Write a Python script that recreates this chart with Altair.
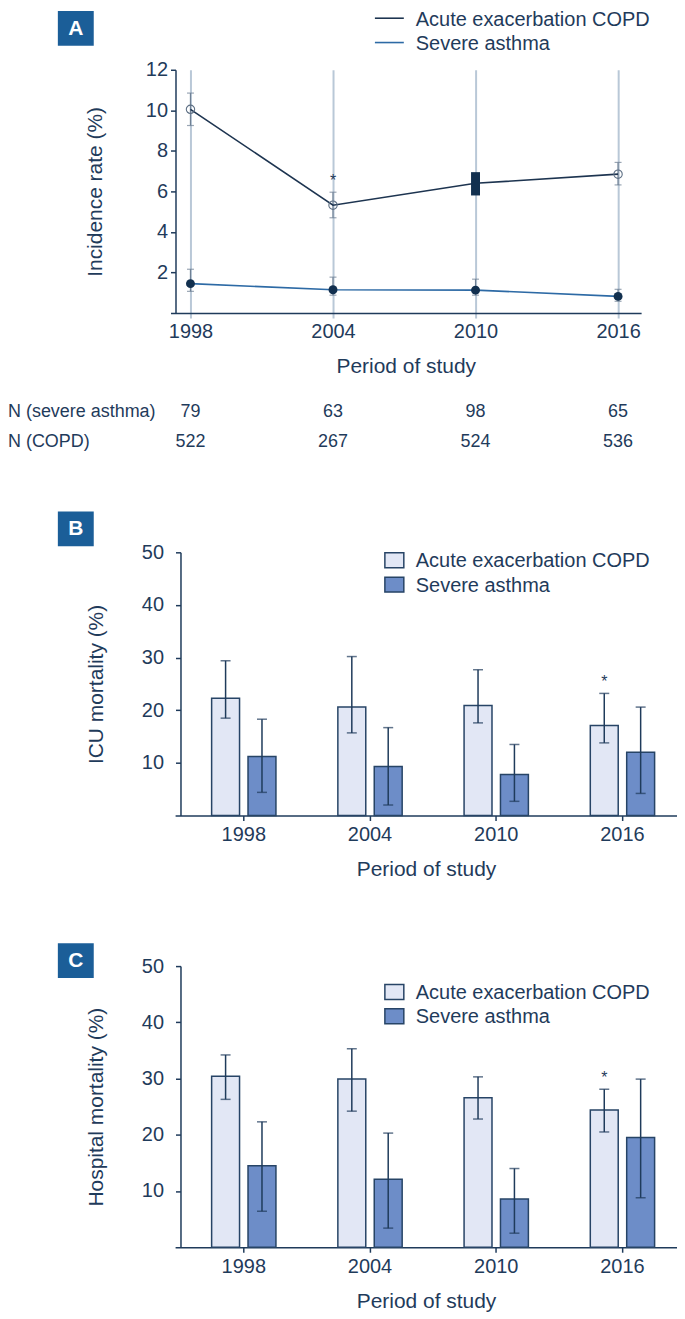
import altair as alt
import pandas as pd

# ---------------- data ----------------
years = [1998, 2004, 2010, 2016]
year_labels = ["1998", "2004", "2010", "2016"]
series = ["Acute exacerbation COPD", "Severe asthma"]

# Panel A - incidence rate (%) with 95% CI
inc_copd = [10.05, 5.32, 6.40, 6.85]
inc_copd_lo = [9.25, 4.70, 5.80, 6.32]
inc_copd_hi = [10.85, 5.96, 6.95, 7.43]
inc_asthma = [1.45, 1.15, 1.13, 0.82]
inc_asthma_lo = [1.07, 0.88, 0.88, 0.58]
inc_asthma_hi = [2.16, 1.77, 1.67, 1.17]
inc_copd_marker = ["open", "open", "box", "open"]
inc_copd_sig = [False, True, False, False]

n_asthma = [79, 63, 98, 65]
n_copd = [522, 267, 524, 536]

# Panel B - ICU mortality (%)
icu_copd = [22.3, 20.6, 20.9, 17.1]
icu_copd_lo = [18.5, 15.7, 17.6, 13.8]
icu_copd_hi = [29.4, 30.2, 27.7, 23.2]
icu_asthma = [11.2, 9.3, 7.8, 12.0]
icu_asthma_lo = [4.4, 2.0, 2.7, 4.2]
icu_asthma_hi = [18.3, 16.7, 13.5, 20.6]
icu_copd_sig = [False, False, False, True]

# Panel C - hospital mortality (%)
hosp_copd = [30.4, 29.9, 26.6, 24.4]
hosp_copd_lo = [26.3, 24.2, 22.8, 20.5]
hosp_copd_hi = [34.2, 35.3, 30.3, 28.1]
hosp_asthma = [14.5, 12.1, 8.6, 19.5]
hosp_asthma_lo = [6.4, 3.4, 2.5, 8.8]
hosp_asthma_hi = [22.3, 20.3, 14.0, 29.9]
hosp_copd_sig = [False, False, False, True]

# ---------------- style ----------------
FONT = "Liberation Sans"
INK = "#1f3b5b"
BOX = "#1b5e98"
GRID = "#b9c8d7"
ERR_A = "#6f8094"
LINE_COPD = "#1d3450"
LINE_ASTHMA = "#2d6aa5"
DOT = "#12304f"
BAR_COPD = "#e2e7f5"
BAR_ASTHMA = "#6d8dc8"
BAR_STROKE = "#274466"

one = pd.DataFrame({"k": [0]})


def panel_box(letter, top):
    rect = alt.Chart(one).mark_rect(color=BOX).encode(
        x=alt.value(-113), x2=alt.value(-77), y=alt.value(top), y2=alt.value(top + 35)
    )
    txt = alt.Chart(one).mark_text(
        color="white", font=FONT, fontSize=21, fontWeight="bold", align="center", baseline="middle"
    ).encode(x=alt.value(-95), y=alt.value(top + 18), text=alt.value(letter))
    return [rect, txt]


# ---------------- panel A ----------------
dfA = pd.DataFrame({
    "year": years * 2,
    "series": [series[0]] * 4 + [series[1]] * 4,
    "rate": inc_copd + inc_asthma,
    "lo": inc_copd_lo + inc_asthma_lo,
    "hi": inc_copd_hi + inc_asthma_hi,
    "marker": inc_copd_marker + ["filled"] * 4,
    "sig": inc_copd_sig + [False] * 4,
})
dfN = pd.DataFrame({"year": years, "n_asthma": n_asthma, "n_copd": n_copd})

scA_x = alt.Scale(domain=[1997.16, 2016.97], nice=False, zero=False)
axA_x = alt.Axis(values=years, format="d", title="Period of study", grid=True, gridColor=GRID,
                 gridWidth=2, tickColor=GRID, tickWidth=2, tickSize=5, labelPadding=4,
                 titleY=60, titleBaseline="alphabetic", labelFlush=False)
scA_y = alt.Scale(domain=[0, 12], nice=False)
axA_y = alt.Axis(values=[2, 4, 6, 8, 10, 12], title="Incidence rate (%)", grid=False, offset=-5,
                 tickSize=5, labelPadding=3, titleX=-80, titleBaseline="middle")


def xA():
    return alt.X("year:Q", scale=scA_x, axis=axA_x)


def yA(f):
    return alt.Y(f, type="quantitative", scale=scA_y, axis=axA_y)


baseA = alt.Chart(dfA)
errA = baseA.transform_filter("datum.marker != 'box'").mark_rule(color=ERR_A, strokeWidth=1.2).encode(
    x=xA(), y=yA("lo"), y2="hi")
capA = baseA.transform_filter("datum.marker != 'box'").transform_fold(["lo", "hi"], as_=["end", "ci"]).mark_tick(
    orient="horizontal", size=7, thickness=1.2, color=ERR_A).encode(x=xA(), y=yA("ci"))
boxA = baseA.transform_filter("datum.marker == 'box'").mark_rule(strokeWidth=9, color=DOT).encode(
    x=xA(), y=yA("lo"), y2="hi")
lineA = baseA.mark_line(strokeWidth=1.6).encode(
    x=xA(), y=yA("rate"),
    color=alt.Color("series:N", scale=alt.Scale(domain=series, range=[LINE_COPD, LINE_ASTHMA]), legend=None))
openA = baseA.transform_filter("datum.marker == 'open'").mark_point(
    shape="circle", filled=False, size=70, strokeWidth=1.1, color="#5d6f84", opacity=1).encode(x=xA(), y=yA("rate"))
dotA = baseA.transform_filter("datum.marker == 'filled'").mark_point(
    shape="circle", filled=True, size=80, color=DOT, opacity=1).encode(x=xA(), y=yA("rate"))
starA = baseA.transform_filter("datum.sig").mark_text(
    text="*", font=FONT, fontSize=16, dy=-6, baseline="alphabetic", color=INK).encode(x=xA(), y=yA("hi"))

nA1 = alt.Chart(dfN).mark_text(font=FONT, fontSize=18, color=INK, baseline="middle").encode(
    x=xA(), y=alt.value(343), text="n_asthma:Q")
nA2 = alt.Chart(dfN).mark_text(font=FONT, fontSize=18, color=INK, baseline="middle").encode(
    x=xA(), y=alt.value(373), text="n_copd:Q")
nlab1 = alt.Chart(one).mark_text(font=FONT, fontSize=18, color=INK, align="left", baseline="middle").encode(
    x=alt.value(-163), y=alt.value(343), text=alt.value("N (severe asthma)"))
nlab2 = alt.Chart(one).mark_text(font=FONT, fontSize=18, color=INK, align="left", baseline="middle").encode(
    x=alt.value(-163), y=alt.value(373), text=alt.value("N (COPD)"))

legA = []
for i, (name, col) in enumerate(zip(series, [LINE_COPD, LINE_ASTHMA])):
    legA.append(alt.Chart(one).mark_rule(color=col, strokeWidth=1.6).encode(
        x=alt.value(205), x2=alt.value(234), y=alt.value(-51.7 + 24.4 * i)))
    legA.append(alt.Chart(one).mark_text(font=FONT, fontSize=20, color=INK, align="left", baseline="middle").encode(
        x=alt.value(246), y=alt.value(-50 + 24.4 * i), text=alt.value(name)))

chartA = alt.layer(
    errA, capA, lineA, boxA, openA, dotA, starA, nA1, nA2, nlab1, nlab2, *legA, *panel_box("A", -59)
).properties(width=472, height=244)


# ---------------- panels B and C ----------------
def bar_panel(letter, ytitle, height, box_top, leg_top, copd, copd_lo, copd_hi, asth, asth_lo, asth_hi, copd_sig):
    df = pd.DataFrame({
        "year": year_labels * 2,
        "series": [series[0]] * 4 + [series[1]] * 4,
        "value": copd + asth,
        "lo": copd_lo + asth_lo,
        "hi": copd_hi + asth_hi,
        "sig": copd_sig + [False] * 4,
    })
    sx = alt.Scale(type="band", range=[4.6, 508], paddingInner=0.4905, paddingOuter=0.2334, align=0.62)
    ax = alt.Axis(title="Period of study", labelAngle=0, tickSize=5, labelPadding=4, titleY=60,
                  titleBaseline="alphabetic", grid=False)
    sxo = alt.Scale(paddingInner=0.2329, paddingOuter=0)
    sy = alt.Scale(domain=[0, 50], nice=False)
    ay = alt.Axis(values=[10, 20, 30, 40, 50], title=ytitle, grid=False, offset=-10, tickSize=5,
                  labelPadding=12, titleX=-84, titleBaseline="middle")

    def X():
        return alt.X("year:N", sort=year_labels, scale=sx, axis=ax)

    def XO():
        return alt.XOffset("series:N", sort=series, scale=sxo)

    def Y(f):
        return alt.Y(f, type="quantitative", scale=sy, axis=ay)

    base = alt.Chart(df)
    bars = base.mark_bar(stroke=BAR_STROKE, strokeWidth=1.5).encode(
        x=X(), xOffset=XO(), y=Y("value"),
        color=alt.Color("series:N", scale=alt.Scale(domain=series, range=[BAR_COPD, BAR_ASTHMA]), legend=None))
    err = base.mark_rule(color=INK, strokeWidth=1.5).encode(x=X(), xOffset=XO(), y=Y("lo"), y2="hi")
    caps = base.transform_fold(["lo", "hi"], as_=["end", "ci"]).mark_tick(
        orient="horizontal", size=10, thickness=1.5, color=INK).encode(x=X(), xOffset=XO(), y=Y("ci"))
    star = base.transform_filter("datum.sig").mark_text(
        text="*", font=FONT, fontSize=16, dy=-6, baseline="alphabetic", color=INK).encode(
        x=X(), xOffset=XO(), y=Y("hi"))

    leg = []
    for i, (name, col) in enumerate(zip(series, [BAR_COPD, BAR_ASTHMA])):
        cy = leg_top + 24.4 * i
        leg.append(alt.Chart(one).mark_rect(fill=col, stroke=BAR_STROKE, strokeWidth=1.5).encode(
            x=alt.value(215), x2=alt.value(234), y=alt.value(cy - 7.5), y2=alt.value(cy + 7.5)))
        leg.append(alt.Chart(one).mark_text(font=FONT, fontSize=20, color=INK, align="left", baseline="middle").encode(
            x=alt.value(246), y=alt.value(cy + 1), text=alt.value(name)))

    return alt.layer(bars, err, caps, star, *leg, *panel_box(letter, box_top)).properties(width=508, height=height)


chartB = bar_panel("B", "ICU mortality (%)", 264, -41, 8,
                   icu_copd, icu_copd_lo, icu_copd_hi, icu_asthma, icu_asthma_lo, icu_asthma_hi, icu_copd_sig)
chartC = bar_panel("C", "Hospital mortality (%)", 282, -23, 26,
                   hosp_copd, hosp_copd_lo, hosp_copd_hi, hosp_asthma, hosp_asthma_lo, hosp_asthma_hi, hosp_copd_sig)

inner = alt.vconcat(chartB, chartC, spacing=151, bounds="flush")
chart = alt.vconcat(chartA, inner, spacing=240, bounds="flush").resolve_scale(
    color="independent"
).properties(
    padding={"left": 0, "top": 0, "right": 0, "bottom": 0}
).configure_view(stroke=None).configure_axis(
    labelFont=FONT, titleFont=FONT, labelFontSize=20, titleFontSize=21, labelColor=INK, titleColor=INK,
    titleFontWeight="normal", domainColor=INK, domainWidth=1.5, tickColor=INK, tickWidth=1.5
)

chart.save("out.html", embed_options={"renderer": "svg", "actions": False})
